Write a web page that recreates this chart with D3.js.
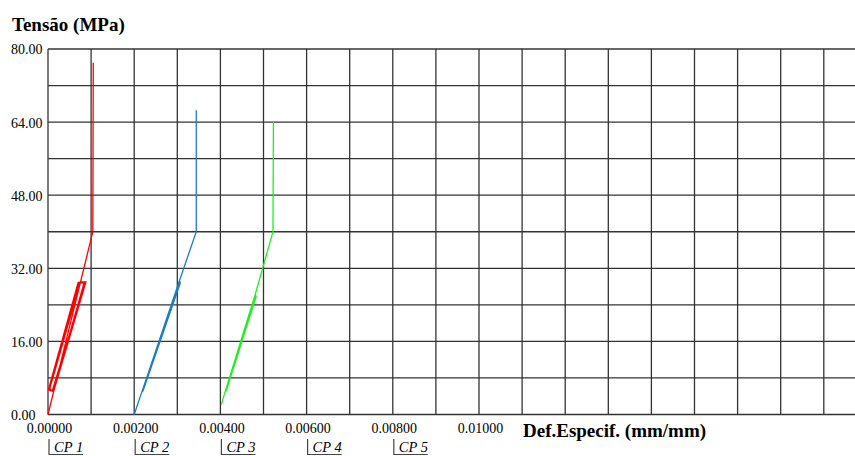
<!DOCTYPE html>
<html>
<head>
<meta charset="utf-8">
<script src="https://cdn.jsdelivr.net/npm/d3@7"></script>
<style>
  html, body { margin: 0; padding: 0; background: #fff; }
  svg { display: block; }
  text { font-family: "Liberation Serif", "Times New Roman", serif; fill: #000; }
</style>
</head>
<body>
<svg id="chart" width="855" height="456"></svg>
<script>
// Stress–strain records for each specimen (strain in mm/mm, stress in MPa)
const cp1Strain = [0.00000, 0.00013, 0.00001, 0.00072, 0.00086, 0.00010, 0.00002, 0.00070, 0.00084, 0.00012, 0.00004, 0.00075, 0.00088, 0.00013, 0.00104, 0.00105];
const cp1Stress = [0.0, 5.0, 5.4, 28.8, 28.8, 5.2, 5.8, 28.9, 28.9, 5.0, 5.6, 29.0, 29.0, 5.0, 40.0, 77.0];

const cp2Strain = [0.00200, 0.00218, 0.00304, 0.00306, 0.00220, 0.00219, 0.00305, 0.00307, 0.00221, 0.00220, 0.00306, 0.00304, 0.00344, 0.00344];
const cp2Stress = [0.0, 5.0, 29.0, 29.0, 5.2, 5.0, 29.0, 28.8, 5.3, 5.1, 29.2, 29.0, 40.0, 66.6];

const cp3Strain = [0.00402, 0.00411, 0.00480, 0.00482, 0.00413, 0.00412, 0.00481, 0.00483, 0.00414, 0.00413, 0.00480, 0.00522, 0.00523];
const cp3Stress = [2.1, 5.0, 26.0, 26.0, 5.2, 5.0, 26.0, 25.8, 5.3, 5.1, 26.0, 40.0, 64.0];

const specimens = ["CP 1", "CP 2", "CP 3", "CP 4", "CP 5"];
const xTicks = [0, 0.002, 0.004, 0.006, 0.008, 0.010];
const yTicks = [0, 16, 32, 48, 64, 80];

const svg = d3.select("#chart");

// Plot frame: one grid cell is 0.001 mm/mm by 8 MPa
const x = d3.scaleLinear().domain([0, 0.02]).range([48, 48 + 43.1 * 20]);
const y = d3.scaleLinear().domain([0, 80]).range([414.5, 49]);

const grid = svg.append("g").attr("stroke", "#333").attr("stroke-width", 1.3);
grid.selectAll("line.h").data(d3.range(0, 81, 8)).join("line")
  .attr("class", "h")
  .attr("x1", x(0)).attr("x2", 855)
  .attr("y1", d => y(d)).attr("y2", d => y(d));
grid.selectAll("line.v").data(d3.range(0, 19).map(i => i * 0.001)).join("line")
  .attr("class", "v")
  .attr("x1", d => x(d)).attr("x2", d => x(d))
  .attr("y1", y(80)).attr("y2", y(0));

// Curves
const line = d3.line().x(d => x(d[0])).y(d => y(d[1]));
const series = [
  { strain: cp1Strain, stress: cp1Stress, color: "#ff0000" },
  { strain: cp2Strain, stress: cp2Stress, color: "#1a7cc4" },
  { strain: cp3Strain, stress: cp3Stress, color: "#22ee22" }
];
svg.append("g").selectAll("path").data(series).join("path")
  .attr("fill", "none")
  .attr("stroke", d => d.color)
  .attr("stroke-width", 1.3)
  .attr("stroke-linejoin", "miter")
  .attr("d", d => line(d.strain.map((s, i) => [s, d.stress[i]])));

// Y tick labels
const yAxis = d3.axisLeft(y).tickValues(yTicks).tickFormat(d3.format(".2f")).tickSize(0);
const yg = svg.append("g").call(yAxis);
yg.select(".domain").remove();
yg.selectAll("text")
  .attr("text-anchor", "start")
  .attr("x", 11)
  .attr("dy", "0.35em")
  .style("font-family", "'Liberation Serif', serif")
  .style("font-size", "14px")
  .attr("fill", "#000");

// X tick labels
const xAxis = d3.axisBottom(x).tickValues(xTicks).tickFormat(d3.format(".5f")).tickSize(0);
const xg = svg.append("g").attr("transform", "translate(1,0)").call(xAxis);
xg.select(".domain").remove();
xg.selectAll("text")
  .attr("y", 433).attr("dy", 0)
  .style("font-family", "'Liberation Serif', serif")
  .style("font-size", "14px")
  .attr("fill", "#000");

// Axis titles
svg.append("text").attr("x", 12).attr("y", 31)
  .style("font-size", "19px").style("font-weight", "bold")
  .text("Tensão (MPa)");
svg.append("text").attr("x", 523).attr("y", 437)
  .style("font-size", "19px").style("font-weight", "bold")
  .text("Def.Especif. (mm/mm)");

// Specimen legend under the x axis
const legend = svg.append("g").selectAll("g").data(specimens).join("g")
  .attr("transform", (d, i) => `translate(${x(i * 0.002) + 1},0)`);
legend.append("path")
  .attr("d", "M0,439V454.5H34")
  .attr("fill", "none").attr("stroke", "#444").attr("stroke-width", 1.2);
legend.append("text").attr("x", 5).attr("y", 451.5)
  .style("font-size", "14.5px").style("font-style", "italic")
  .text(d => d);
</script>
</body>
</html>
